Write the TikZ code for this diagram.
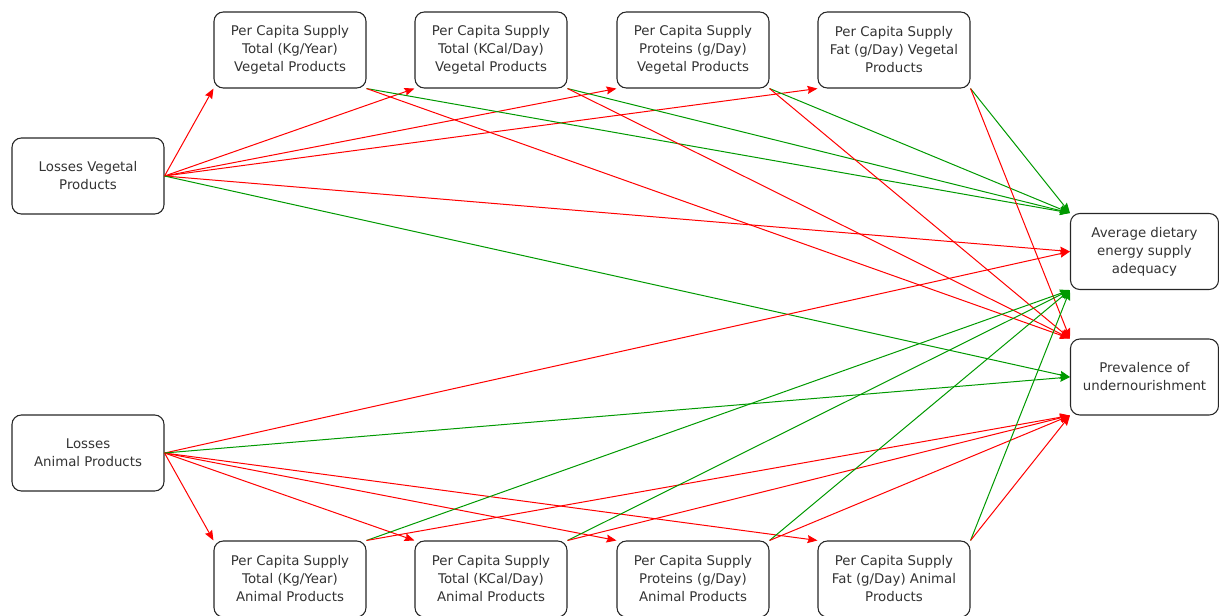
\documentclass[tikz,border=0pt]{standalone}
\usepackage{fontspec}
\setmainfont{DejaVu Sans}
\usetikzlibrary{arrows.meta}
\definecolor{arrred}{HTML}{FF0000}
\definecolor{arrgreen}{HTML}{009900}
\definecolor{txtgray}{HTML}{333333}
\begin{document}
\begin{tikzpicture}[x=0.75pt,y=-0.75pt,
  box/.style={rectangle,rounded corners=7pt,draw=black!85,line width=0.8pt,
    minimum width=114pt,minimum height=57pt,align=center,
    font=\fontsize{10}{13.5}\selectfont,text=txtgray,inner sep=2pt},
  redarr/.style={draw=arrred,line width=0.75pt,-{Stealth[inset=1pt,length=7.5pt,width=6pt]}},
  greenarr/.style={draw=arrgreen,line width=0.75pt,-{Stealth[inset=1pt,length=7.5pt,width=6pt]}}]
  \useasboundingbox (0,0) rectangle (1219,615);
  \node[box] (lossveg) at (88,176) {Losses Vegetal\\Products};
  \node[box] (lossani) at (88,453) {Losses\\Animal Products};
  \node[box] (kgveg) at (290,50) {Per Capita Supply\\Total (Kg/Year)\\Vegetal Products};
  \node[box] (kcalveg) at (491,50) {Per Capita Supply\\Total (KCal/Day)\\Vegetal Products};
  \node[box] (protveg) at (693,50) {Per Capita Supply\\Proteins (g/Day)\\Vegetal Products};
  \node[box] (fatveg) at (894,50) {Per Capita Supply\\Fat (g/Day) Vegetal\\Products};
  \node[box] (kgani) at (290,579) {Per Capita Supply\\Total (Kg/Year)\\Animal Products};
  \node[box] (kcalani) at (491,579) {Per Capita Supply\\Total (KCal/Day)\\Animal Products};
  \node[box] (protani) at (693,579) {Per Capita Supply\\Proteins (g/Day)\\Animal Products};
  \node[box] (fatani) at (894,579) {Per Capita Supply\\Fat (g/Day) Animal\\Products};
  \node[box,minimum width=111pt] (adequacy) at (1144.5,251.5) {Average dietary\\energy supply\\adequacy};
  \node[box,minimum width=111pt] (undernour) at (1144.5,377) {Prevalence of\\undernourishment};
  % losses -> supply
  \draw[redarr](lossveg.east)--(kgveg.south west);
  \draw[redarr](lossveg.east)--(kcalveg.south west);
  \draw[redarr](lossveg.east)--(protveg.south west);
  \draw[redarr](lossveg.east)--(fatveg.south west);
  \draw[redarr](lossani.east)--(kgani.north west);
  \draw[redarr](lossani.east)--(kcalani.north west);
  \draw[redarr](lossani.east)--(protani.north west);
  \draw[redarr](lossani.east)--(fatani.north west);
  % losses -> outcomes
  \draw[redarr](lossveg.east)--(adequacy.west);
  \draw[greenarr](lossveg.east)--(undernour.west);
  \draw[redarr](lossani.east)--(adequacy.west);
  \draw[greenarr](lossani.east)--(undernour.west);
  % supply -> outcomes
  \foreach \src in {kgveg,kcalveg,protveg,fatveg}{
    \draw[greenarr](\src.south east)--(adequacy.north west);
    \draw[redarr](\src.south east)--(undernour.north west);
  }
  \foreach \src in {kgani,kcalani,protani,fatani}{
    \draw[greenarr](\src.north east)--(adequacy.south west);
    \draw[redarr](\src.north east)--(undernour.south west);
  }
\end{tikzpicture}
\end{document}
